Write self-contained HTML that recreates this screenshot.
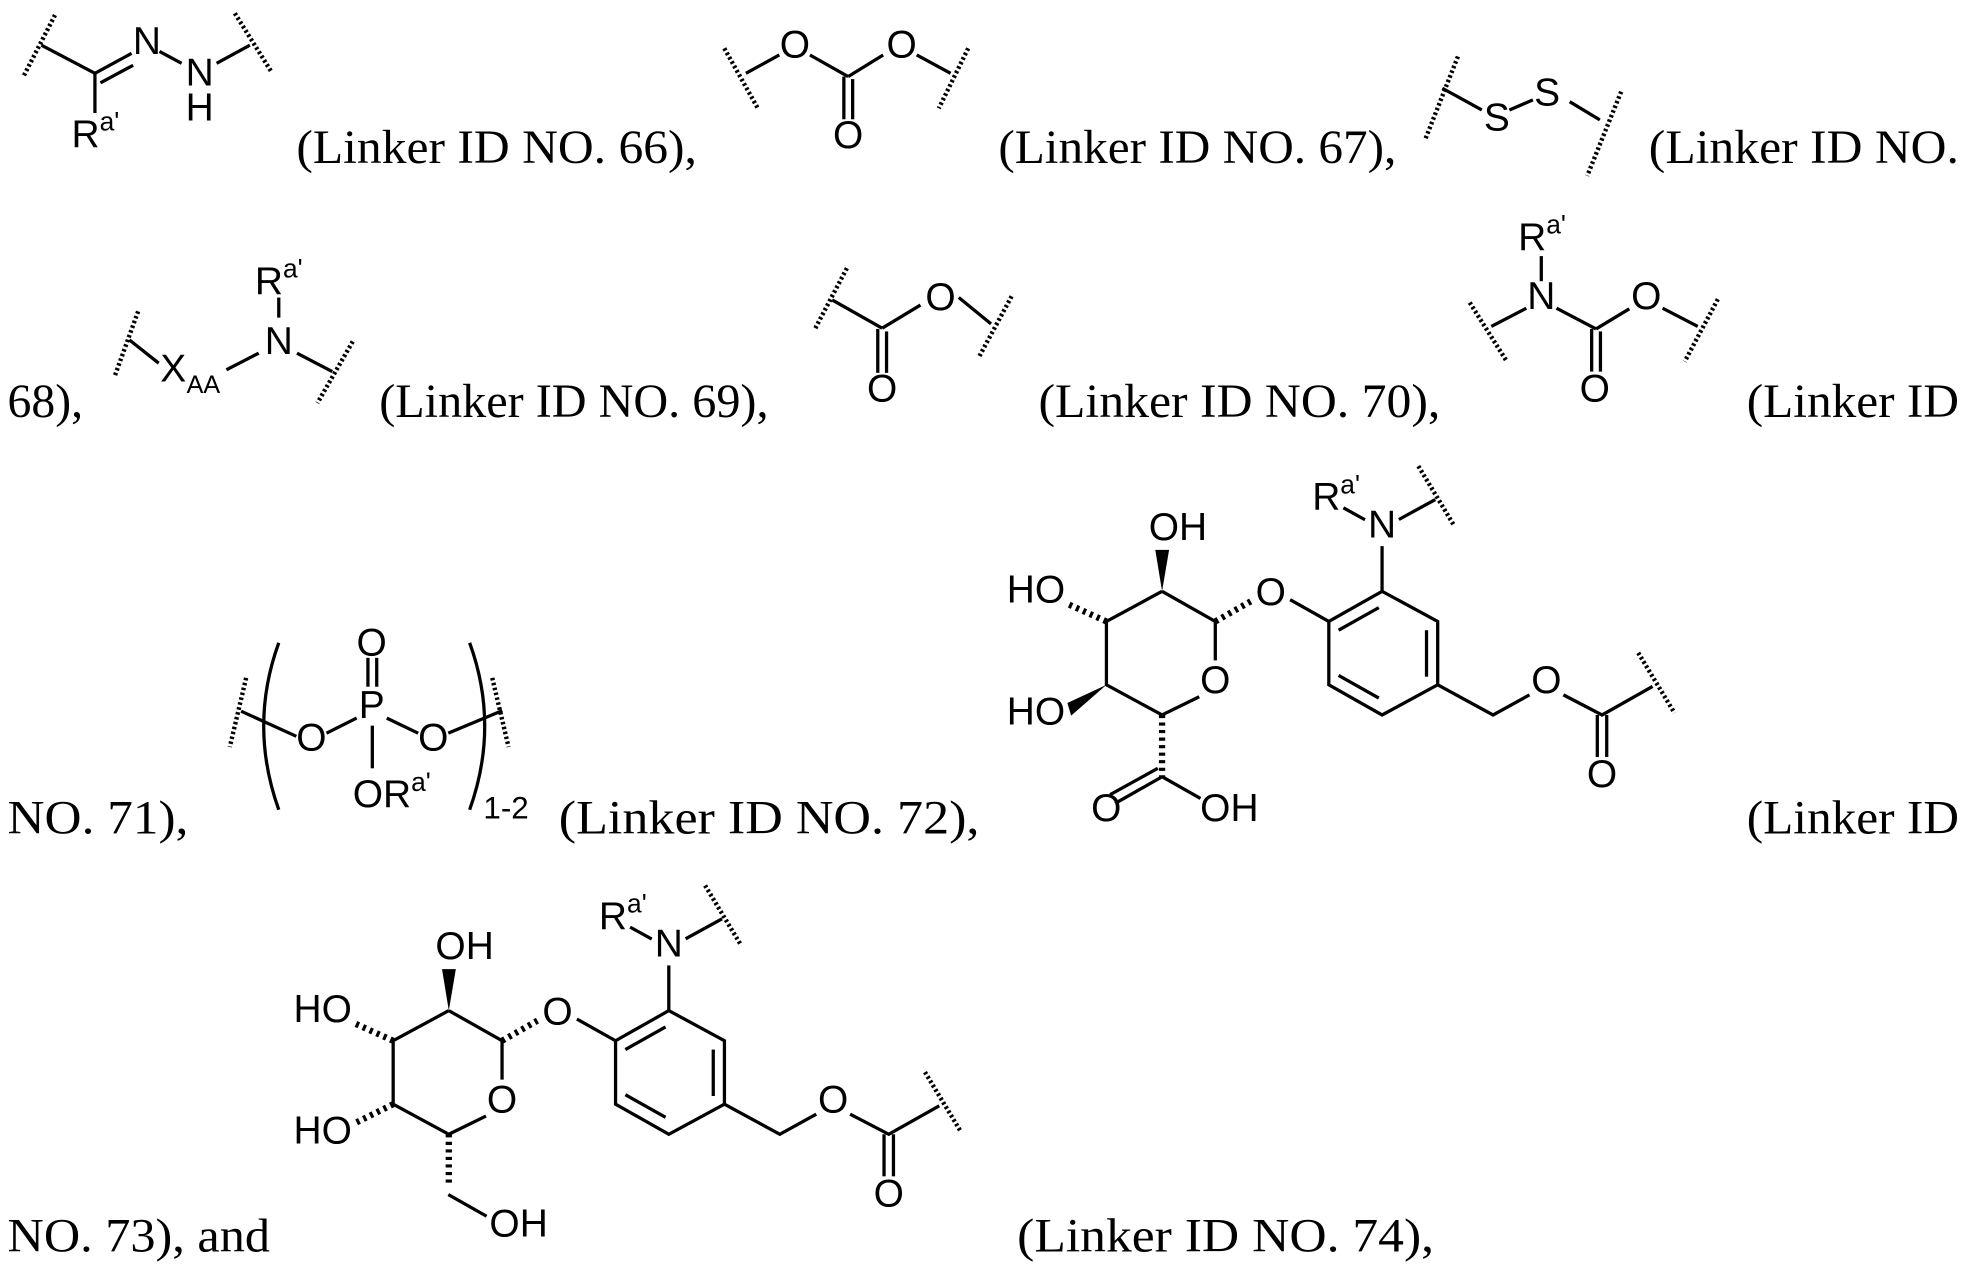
<!DOCTYPE html>
<html><head><meta charset="utf-8"><style>
html,body{margin:0;padding:0;background:#fff;}
svg{display:block;}
.t{font-family:"Liberation Serif",serif;font-size:38px;fill:#000;}
.l{font-family:"Liberation Sans",sans-serif;font-size:31px;fill:#000;text-anchor:middle;}
.s{font-family:"Liberation Sans",sans-serif;font-size:31px;fill:#000;text-anchor:middle;}
.sup{font-size:21px;}
line,path,polyline{stroke:#000;stroke-width:2.6;fill:none;}
.w{stroke-width:3.5;stroke-dasharray:2 2;}
.h{stroke-width:5;stroke-dasharray:2.5 3.5;}
</style></head><body>
<svg width="1969" height="1273" viewBox="0 0 1568 1014" preserveAspectRatio="none" xmlns="http://www.w3.org/2000/svg">
<!-- text -->
<text class="t" x="236" y="130" textLength="319" lengthAdjust="spacingAndGlyphs">(Linker ID NO. 66),</text>
<text class="t" x="795" y="130" textLength="317" lengthAdjust="spacingAndGlyphs">(Linker ID NO. 67),</text>
<text class="t" x="1313" y="130" textLength="247" lengthAdjust="spacingAndGlyphs">(Linker ID NO.</text>
<text class="t" x="6" y="332">68),</text>
<text class="t" x="302" y="332" textLength="310" lengthAdjust="spacingAndGlyphs">(Linker ID NO. 69),</text>
<text class="t" x="827" y="332" textLength="320" lengthAdjust="spacingAndGlyphs">(Linker ID NO. 70),</text>
<text class="t" x="1391" y="332" textLength="169" lengthAdjust="spacingAndGlyphs">(Linker ID</text>
<text class="t" x="6" y="664" textLength="144" lengthAdjust="spacingAndGlyphs">NO. 71),</text>
<text class="t" x="445" y="664" textLength="335" lengthAdjust="spacingAndGlyphs">(Linker ID NO. 72),</text>
<text class="t" x="1391" y="664" textLength="169" lengthAdjust="spacingAndGlyphs">(Linker ID</text>
<text class="t" x="6" y="997" textLength="209" lengthAdjust="spacingAndGlyphs">NO. 73), and</text>
<text class="t" x="810" y="997" textLength="332" lengthAdjust="spacingAndGlyphs">(Linker ID NO. 74),</text>

<!-- 66 -->
<line class="w" x1="43.8" y1="12" x2="18.6" y2="61"/>
<line x1="33" y1="36" x2="75.6" y2="58.4"/>
<line x1="75.6" y1="58.4" x2="104.8" y2="42.5"/>
<line x1="80" y1="66" x2="106" y2="52"/>
<text class="l" x="117" y="43">N</text>
<line x1="127" y1="41" x2="144.6" y2="50.4"/>
<text class="l" x="159" y="68">N</text>
<text class="l" x="159" y="96">H</text>
<line x1="172.5" y1="50.4" x2="199" y2="36"/>
<line class="w" x1="187" y1="10.6" x2="216" y2="57"/>
<line x1="75.6" y1="58.4" x2="75.6" y2="90"/>
<text class="l" x="76" y="117">R<tspan class="sup" dy="-13">a'</tspan></text>

<!-- 67 -->
<line class="w" x1="576.8" y1="38.5" x2="603.5" y2="86.3"/>
<line x1="594" y1="58.4" x2="620.6" y2="43.8"/>
<text class="l" x="633" y="46">O</text>
<line x1="645" y1="43.8" x2="675.4" y2="61"/>
<line x1="675.4" y1="61" x2="703.3" y2="43.8"/>
<text class="l" x="718" y="46">O</text>
<line x1="730" y1="43.8" x2="757" y2="58.4"/>
<line class="w" x1="771" y1="38.5" x2="747.6" y2="86.3"/>
<line x1="672" y1="61" x2="672" y2="95"/>
<line x1="679" y1="63" x2="679" y2="95"/>
<text class="l" x="675.4" y="118">O</text>

<!-- 68 -->
<line class="w" x1="1161" y1="45" x2="1134.6" y2="112"/>
<line x1="1148.6" y1="70.3" x2="1180" y2="87.6"/>
<text class="l" x="1192" y="104">S</text>
<line x1="1202" y1="87.6" x2="1220.7" y2="79.6"/>
<text class="l" x="1232" y="84">S</text>
<line x1="1250" y1="81" x2="1274" y2="95.5"/>
<line class="w" x1="1291" y1="73" x2="1264" y2="140"/>

<!-- 69 -->
<line class="w" x1="110" y1="248" x2="91.3" y2="299.8"/>
<line x1="103" y1="270.7" x2="126.4" y2="289.3"/>
<text class="l" x="138" y="304">X</text>
<text class="l" style="font-size:20px" x="162" y="313">AA</text>
<line x1="180.3" y1="294.6" x2="206" y2="281.3"/>
<text class="l" x="222" y="282">N</text>
<line x1="222" y1="237" x2="222" y2="253"/>
<text class="l" x="222" y="234">R<tspan class="sup" dy="-13">a'</tspan></text>
<line x1="236.5" y1="281.3" x2="264.6" y2="296"/>
<line class="w" x1="280.9" y1="272" x2="252.8" y2="321"/>

<!-- 70 -->
<line class="w" x1="674.4" y1="213.6" x2="648.6" y2="262.7"/>
<line x1="662.7" y1="238.9" x2="702.5" y2="261.4"/>
<line x1="702.5" y1="261.4" x2="733" y2="243"/>
<text class="l" x="749" y="247">O</text>
<line x1="763.5" y1="237" x2="789.2" y2="258"/>
<line class="w" x1="805.6" y1="236" x2="779.8" y2="284"/>
<line x1="699" y1="262" x2="699" y2="297"/>
<line x1="706" y1="264" x2="706" y2="297"/>
<text class="l" x="702.5" y="320">O</text>

<!-- 71 -->
<text class="l" x="1228" y="199">R<tspan class="sup" dy="-13">a'</tspan></text>
<line x1="1227.4" y1="204" x2="1227.4" y2="224"/>
<text class="l" x="1227.4" y="246">N</text>
<line class="w" x1="1170.4" y1="241" x2="1200" y2="288"/>
<line x1="1187.6" y1="260" x2="1215.5" y2="245.5"/>
<line x1="1239.5" y1="245.5" x2="1271" y2="262"/>
<line x1="1271" y1="262" x2="1297.5" y2="246"/>
<text class="l" x="1311" y="246">O</text>
<line x1="1324" y1="245.5" x2="1352" y2="260"/>
<line class="w" x1="1368" y1="238.3" x2="1341.6" y2="288"/>
<line x1="1267.5" y1="262" x2="1267.5" y2="296"/>
<line x1="1274.5" y1="264" x2="1274.5" y2="296"/>
<text class="l" x="1270" y="320">O</text>

<!-- 72 -->
<line class="w" x1="196" y1="540" x2="183" y2="595"/>
<line x1="192" y1="566.5" x2="236" y2="586.5"/>
<text class="l" x="248" y="598">O</text>
<line x1="260" y1="584" x2="284" y2="572"/>
<text class="l" x="296" y="572">P</text>
<line x1="293" y1="524" x2="293" y2="547"/>
<line x1="300" y1="524" x2="300" y2="547"/>
<text class="l" x="296" y="522">O</text>
<line x1="308" y1="572" x2="333" y2="584"/>
<text class="l" x="345" y="598">O</text>
<line x1="357" y1="584" x2="400" y2="566"/>
<line class="w" x1="392" y1="540" x2="405" y2="595"/>
<line x1="296.5" y1="578" x2="296.5" y2="612"/>
<text class="l" x="312" y="643">OR<tspan class="sup" dy="-13">a'</tspan></text>
<path d="M222 512 Q198 578 222 645"/>
<path d="M374 512 Q398 578 374 645"/>
<text class="l" style="font-size:25px" x="403" y="652">1-2</text>

<!-- 73 -->
<g id="core">
<polyline points="925.4,471 967.8,495 967.8,526"/>
<polyline points="955,555 925.4,569.5 881.1,545.5 881.1,495 925.4,471"/>
<text class="s" x="967.8" y="552">O</text>
<polygon points="925.4,471 920,438 931,438" fill="#000"/>
<text class="s" x="938" y="430">OH</text>
<text class="s" x="825" y="480">HO</text>
<line class="h" x1="881.1" y1="495" x2="850" y2="481"/>
<line class="h" x1="967.8" y1="495" x2="996" y2="479"/>
<text class="s" x="1012" y="482">O</text>
<line x1="1027.4" y1="477.7" x2="1058.2" y2="495"/>
<polyline points="1058.2,495 1100.6,471 1144.9,495 1144.9,545.5 1100.6,569.5 1058.2,545.5 1058.2,495"/>
<line x1="1066" y1="502" x2="1098" y2="484"/>
<line x1="1136" y1="502" x2="1136" y2="539"/>
<line x1="1066" y1="538" x2="1098" y2="556"/>
<line x1="1100.6" y1="471" x2="1100.6" y2="435"/>
<text class="s" x="1100.6" y="428">N</text>
<text class="s" x="1064" y="406">R<tspan class="sup" style="font-size:21px" dy="-13">a'</tspan></text>
<line x1="1069.8" y1="404.5" x2="1087" y2="414"/>
<line x1="1114" y1="413.8" x2="1143" y2="397.9"/>
<line class="w" x1="1129.5" y1="371.3" x2="1158.3" y2="419.2"/>
<polyline points="1144.9,545.5 1189,569.5 1218,553.5"/>
<text class="s" x="1231.5" y="552">O</text>
<polyline points="1245,553.5 1275.8,569.5 1316,546.8"/>
<line class="w" x1="1304.6" y1="520" x2="1333.5" y2="568"/>
<line x1="1272" y1="569.5" x2="1272" y2="603"/>
<line x1="1279.5" y1="569.5" x2="1279.5" y2="603"/>
<text class="s" x="1275.8" y="627">O</text>
</g>
<polygon points="881.1,545.5 850,560 853,570" fill="#000"/>
<text class="s" x="825" y="577">HO</text>
<line class="h" x1="925.4" y1="569.5" x2="925.4" y2="618.7"/>
<line x1="925.4" y1="618.7" x2="888" y2="640"/>
<line x1="922" y1="612" x2="884" y2="633"/>
<text class="s" x="881" y="654">O</text>
<line x1="925.4" y1="618.7" x2="956" y2="636"/>
<text class="s" x="979" y="654">OH</text>

<!-- 74 -->
<use href="#core" transform="translate(-568,334)"/>
<line class="h" x1="313.1" y1="879.5" x2="284" y2="894"/>
<text class="s" x="257" y="911">HO</text>
<line class="h" x1="357.4" y1="903.5" x2="357.4" y2="945"/>
<line x1="357" y1="951.5" x2="387.5" y2="968.8"/>
<text class="s" x="413" y="985">OH</text>
</svg>
</body></html>
